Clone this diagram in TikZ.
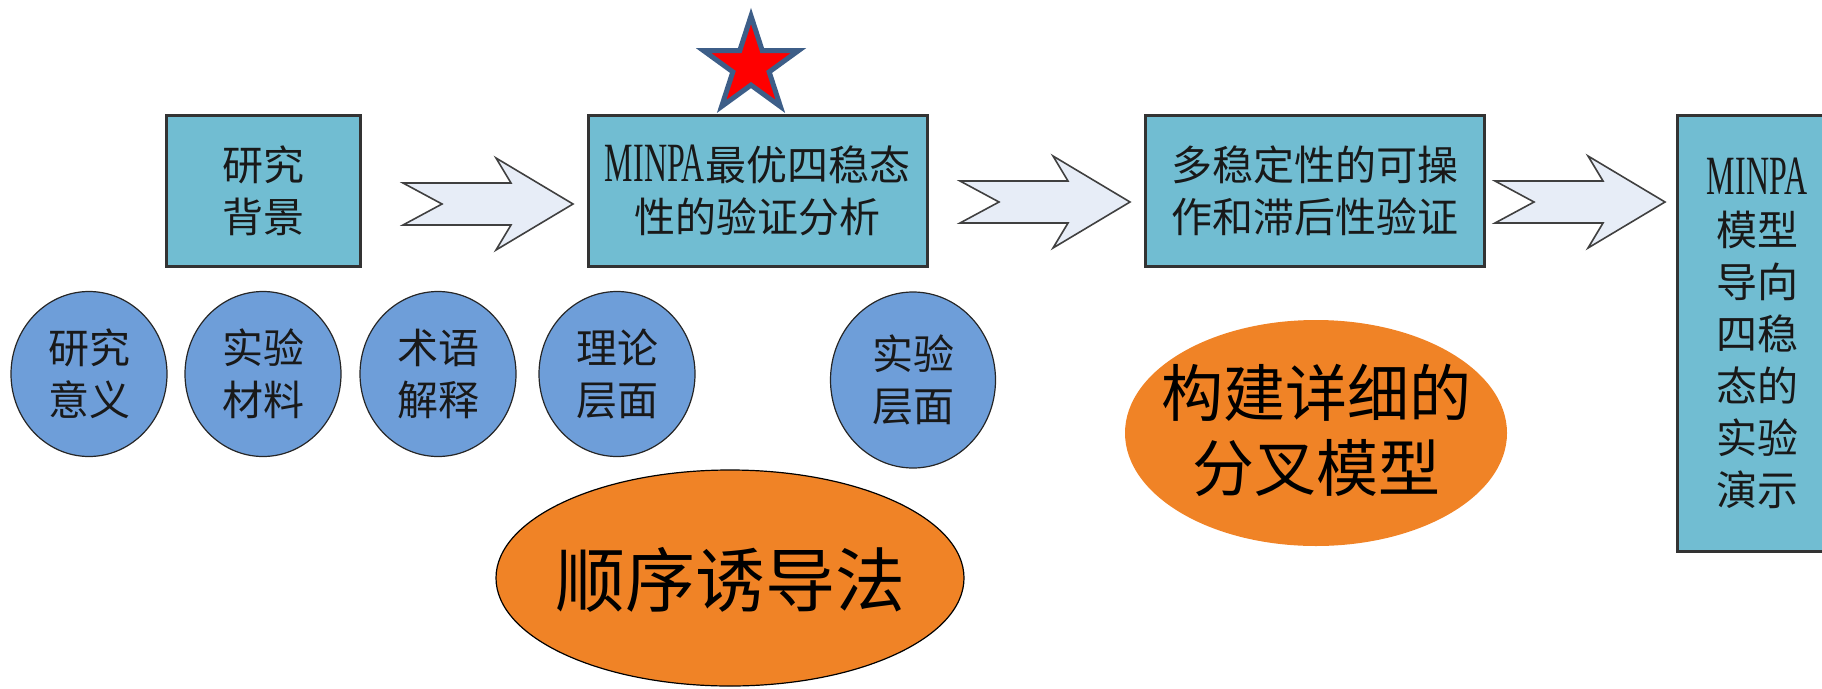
\documentclass[tikz,border=0pt]{standalone}
\usepackage{fontspec}
\newfontfamily\cjk{Noto Sans CJK SC}
\newfontfamily\latincond{Liberation Serif}
\usetikzlibrary{shapes.geometric}
\definecolor{boxfill}{HTML}{71BDD2}
\definecolor{circfill}{HTML}{6E9ED9}
\definecolor{orangefill}{HTML}{F08326}
\definecolor{arrfill}{HTML}{E7EDF7}
\definecolor{starborder}{HTML}{3D5E88}
\newcommand\minpa{\raisebox{-0.02em}{\scalebox{0.78}[1.35]{\latincond MINPA}}}
\begin{document}
\begin{tikzpicture}[x=1pt,y=-1pt,
  bbox/.style={draw=black!80, line width=3pt, fill=boxfill, inner sep=0pt, align=center,
    font=\cjk\fontsize{41}{52}\selectfont, text=black!90},
  circ/.style={ellipse, draw=black!85, line width=1.2pt, fill=circfill, inner sep=0pt, align=center,
    minimum width=156pt, minimum height=165pt, font=\cjk\fontsize{41}{52}\selectfont, text=black!90},
  oval/.style={ellipse, fill=orangefill, inner sep=0pt},
  arrstyle/.style={draw=black!75, line width=1.6pt, fill=arrfill, line join=miter},
  blockarr/.pic={\draw[arrstyle] (0,-21) -- (108,-21) -- (93,-46) -- (170,0) -- (93,46) -- (108,21) -- (0,21) -- (39,0) -- cycle;}
]
\useasboundingbox (0,0) rectangle (1822,688);

% boxes
\node[bbox, minimum width=194pt, minimum height=151pt] (b1) at (263,190.5) {研究\\背景};
\node[bbox, minimum width=339pt, minimum height=151pt] (b2) at (757.5,190.5) {\minpa 最优四稳态\\性的验证分析};
\node[bbox, minimum width=339pt, minimum height=151pt] (b3) at (1314.5,190.5) {多稳定性的可操\\作和滞后性验证};
\node[bbox, minimum width=160pt, minimum height=436pt] (b4) at (1757,333) {\minpa\\模型\\导向\\四稳\\态的\\实验\\演示};

% star
\node[star, star points=5, star point ratio=2.618, minimum size=100pt, inner sep=0pt,
  fill=red, draw=starborder, line width=5pt] (st) at (751,66) {};

% block arrows
\pic at (403,204) {blockarr};
\pic at (960,202) {blockarr};
\pic at (1495,202) {blockarr};

% circles
\node[circ] (c1) at (89,374) {研究\\意义};
\node[circ] (c2) at (263,374) {实验\\材料};
\node[circ] (c3) at (438,374) {术语\\解释};
\node[circ] (c4) at (617,374) {理论\\层面};
\node[circ, minimum width=165pt, minimum height=176pt] (c5) at (913,380) {实验\\层面};

% orange ovals
\node[oval, draw=black, line width=1.2pt, minimum width=468pt, minimum height=216pt,
  label={[font=\cjk\fontsize{70}{80}\selectfont, text=black, yshift=-2pt]center:顺序诱导法}] (o1) at (730,578) {};
\node[oval, minimum width=382pt, minimum height=226pt,
  label={[font=\cjk\fontsize{62}{75}\selectfont, text=black, align=center, yshift=3pt]center:构建详细的\\分叉模型}] (o2) at (1316,433) {};
\end{tikzpicture}
\end{document}
